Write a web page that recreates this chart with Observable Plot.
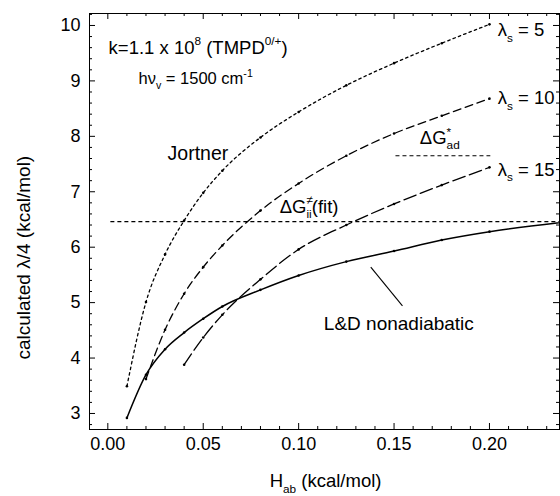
<!DOCTYPE html>
<html>
<head>
<meta charset="utf-8">
<script src="https://cdn.jsdelivr.net/npm/d3@7"></script>
<script src="https://cdn.jsdelivr.net/npm/@observablehq/plot@0.6"></script>
<style>
  html, body { margin: 0; padding: 0; background: #fff; }
  #chart { width: 560px; height: 496px; }
</style>
</head>
<body>
<div id="chart"></div>
<script>
// ---- data ----
const hLD     = [0.01, 0.02, 0.03, 0.04, 0.05, 0.06, 0.08, 0.10, 0.125, 0.15, 0.175, 0.20, 0.25];
const vLD     = [2.92, 3.70, 4.16, 4.46, 4.71, 4.93, 5.23, 5.49, 5.74, 5.93, 6.13, 6.28, 6.49];
const hJort   = [0.01, 0.02, 0.03, 0.04, 0.05, 0.06, 0.08, 0.10, 0.125, 0.15, 0.175, 0.20];
const vJort   = [3.49, 5.01, 5.87, 6.48, 6.98, 7.38, 7.98, 8.44, 8.92, 9.32, 9.68, 10.02];
const hLam10  = [0.02, 0.03, 0.04, 0.05, 0.06, 0.08, 0.10, 0.125, 0.15, 0.175, 0.20];
const vLam10  = [3.62, 4.51, 5.16, 5.64, 6.03, 6.66, 7.15, 7.65, 8.05, 8.37, 8.68];
const hLam15  = [0.04, 0.05, 0.06, 0.08, 0.10, 0.125, 0.15, 0.175, 0.20];
const vLam15  = [3.88, 4.37, 4.78, 5.42, 5.96, 6.40, 6.78, 7.12, 7.44];
const fitLevel = 6.46;   // ΔG≠ii(fit)
const fitFrom  = 0.0016;
const adLevel  = 7.65;   // ΔG*ad
const adFrom   = 0.151, adTo = 0.2007;

const xTickLabels = [0.00, 0.05, 0.10, 0.15, 0.20];
const yTickLabels = [3, 4, 5, 6, 7, 8, 9, 10];

// annotations (text, anchor position in data units)
const annText = ["k=1.1 x 10^{8} (TMPD^{0/+})", "hν_{v} = 1500 cm^{-1}", "Jortner",
                 "ΔG^{≠}_{ii}(fit)", "ΔG^{*}_{ad}", "λ_{s} = 5", "λ_{s} = 10", "λ_{s} = 15",
                 "L&D nonadiabatic"];
const annX    = [0.0004, 0.0161, 0.0313, 0.0901, 0.1635, 0.2043, 0.2043, 0.2043, 0.1132];
const annY    = [9.60, 9.04, 7.69, 6.73, 7.97, 9.91, 8.69, 7.40, 4.61];
const annSize = [18.5, 16.5, 19.5, 18.5, 18.5, 18.5, 18.5, 18.5, 19];

const pointer = {x1: 0.1544, y1: 4.94, x2: 0.1378, y2: 5.64};

const xTitle = "H_{ab} (kcal/mol)";
const yTitle = "calculated λ/4 (kcal/mol)";

// ---- build ----
const W = 560, H = 496, mL = 89, mR = 1, mT = 13, mB = 67;
const toPts = (hs, vs) => hs.map((h, i) => ({h, v: vs[i]}));
const LD = toPts(hLD, vLD), J = toPts(hJort, vJort), L10 = toPts(hLam10, vLam10), L15 = toPts(hLam15, vLam15);
const ann = annText.map((t, i) => ({t, x: annX[i], y: annY[i], s: annSize[i]}));

const xDom = [-0.0096, 0.2367], yDom = [2.711, 10.216];
const xPx = (xDom[1] - xDom[0]) / (W - mL - mR);   // data units per pixel
const yPx = (yDom[1] - yDom[0]) / (H - mT - mB);
const xMinor = d3.range(0, xDom[1], 0.01).map(d => +d.toFixed(3)).filter(d => !xTickLabels.some(t => Math.abs(t - d) < 1e-6));
const yMinor = d3.range(2.8, yDom[1], 0.2).map(d => +d.toFixed(2)).filter(d => Math.abs(d - Math.round(d)) > 1e-6);

const font = "'Liberation Sans', Arial, Helvetica, sans-serif";
const tickStyle = {stroke: "#000", strokeWidth: 1};
const tickMarks = (len, xs, ys) => [
  Plot.ruleX(xs.map(x => ({x, a: yDom[0], b: yDom[0] + len * yPx})), {...tickStyle, x: "x", y1: "a", y2: "b"}),
  Plot.ruleX(xs.map(x => ({x, a: yDom[1], b: yDom[1] - len * yPx})), {...tickStyle, x: "x", y1: "a", y2: "b"}),
  Plot.ruleY(ys.map(y => ({y, a: xDom[0], b: xDom[0] + len * xPx})), {...tickStyle, y: "y", x1: "a", x2: "b"}),
  Plot.ruleY(ys.map(y => ({y, a: xDom[1], b: xDom[1] - len * xPx})), {...tickStyle, y: "y", x1: "a", x2: "b"})
];

const plot = Plot.plot({
  width: W, height: H,
  marginLeft: mL, marginRight: mR, marginTop: mT, marginBottom: mB,
  x: {domain: xDom},
  y: {domain: yDom},
  style: {fontFamily: font, fontSize: "18px", background: "#fff", color: "#000", overflow: "visible"},
  marks: [
    Plot.frame({stroke: "#000", strokeWidth: 1}),
    // tick labels
    Plot.axisX(xTickLabels, {anchor: "bottom", tickSize: 0, tickPadding: 8, tickFormat: d3.format(".2f"), fontSize: 18, label: null}),
    Plot.axisY(yTickLabels, {anchor: "left", tickSize: 0, tickPadding: 9, tickFormat: d3.format("d"), fontSize: 18, label: null}),
    // inward ticks
    ...tickMarks(6, xTickLabels, yTickLabels),
    ...tickMarks(3, xMinor, yMinor),
    // reference levels
    Plot.ruleY([fitLevel], {x1: fitFrom, x2: xDom[1], stroke: "#000", strokeWidth: 1.2, strokeDasharray: "4,3"}),
    Plot.ruleY([adLevel], {x1: adFrom, x2: adTo, stroke: "#000", strokeWidth: 1.2, strokeDasharray: "4,3"}),
    // curves
    Plot.line(J,   {x: "h", y: "v", curve: "monotone-x", stroke: "#000", strokeWidth: 1.3, strokeDasharray: "2.5,3.2"}),
    Plot.line(L10, {x: "h", y: "v", curve: "monotone-x", stroke: "#000", strokeWidth: 1.3, strokeDasharray: "8,4.5"}),
    Plot.line(L15, {x: "h", y: "v", curve: "monotone-x", stroke: "#000", strokeWidth: 1.3, strokeDasharray: "13,4.5"}),
    Plot.line(LD,  {x: "h", y: "v", curve: "monotone-x", stroke: "#000", strokeWidth: 1.5, clip: true}),
    Plot.dot(J,   {x: "h", y: "v", r: 1.3, fill: "#000"}),
    Plot.dot(L10, {x: "h", y: "v", r: 1.3, fill: "#000"}),
    Plot.dot(L15, {x: "h", y: "v", r: 1.3, fill: "#000"}),
    Plot.dot(LD.filter(d => d.h <= xDom[1]), {x: "h", y: "v", r: 1.3, fill: "#000"}),
    Plot.link([pointer], {x1: "x1", y1: "y1", x2: "x2", y2: "y2", stroke: "#000", strokeWidth: 1.1}),
    // annotations
    Plot.text(ann, {x: "x", y: "y", text: "t", fontSize: d => d.s, textAnchor: "start", fill: "#000"}),
    // axis titles
    Plot.text([xTitle], {x: () => 0.1141, y: () => 1.78, text: d => d, fontSize: 18.5, textAnchor: "middle", fill: "#000"}),
    Plot.text([yTitle], {x: () => -0.0442, y: () => 5.81, text: d => d, fontSize: 19, rotate: -90, textAnchor: "middle", fill: "#000"})
  ]
});

document.getElementById("chart").appendChild(plot);

// rich text: ^{...} superscript, _{...} subscript (stacked when following a superscript)
const svgNS = "http://www.w3.org/2000/svg";
plot.querySelectorAll("text").forEach(el => {
  const s = el.textContent;
  if (!/[\^_]\{/.test(s)) return;
  const fs = parseFloat(el.getAttribute("font-size")) || parseFloat(getComputedStyle(el).fontSize) || 18;
  const segs = [];
  const re = /([\^_])\{([^}]*)\}|([^\^_]+)/g;
  let m;
  while ((m = re.exec(s))) {
    if (m[3] !== undefined) segs.push({t: m[3], k: 0});
    else segs.push({t: m[2], k: m[1] === "^" ? 1 : -1});
  }
  el.textContent = "";
  let shift = 0, prev = null;
  for (const sg of segs) {
    const ts = document.createElementNS(svgNS, "tspan");
    ts.textContent = sg.t;
    const target = sg.k === 1 ? -0.45 * fs : sg.k === -1 ? 0.3 * fs : 0;
    ts.setAttribute("dy", (target - shift).toFixed(2));
    shift = target;
    if (sg.k) ts.setAttribute("font-size", (0.64 * fs).toFixed(1));
    el.appendChild(ts);
    if (sg.k === -1 && prev && prev.k === 1) ts.setAttribute("dx", (-prev.el.getComputedTextLength()).toFixed(2));
    prev = {k: sg.k, el: ts};
  }
});
</script>
</body>
</html>
